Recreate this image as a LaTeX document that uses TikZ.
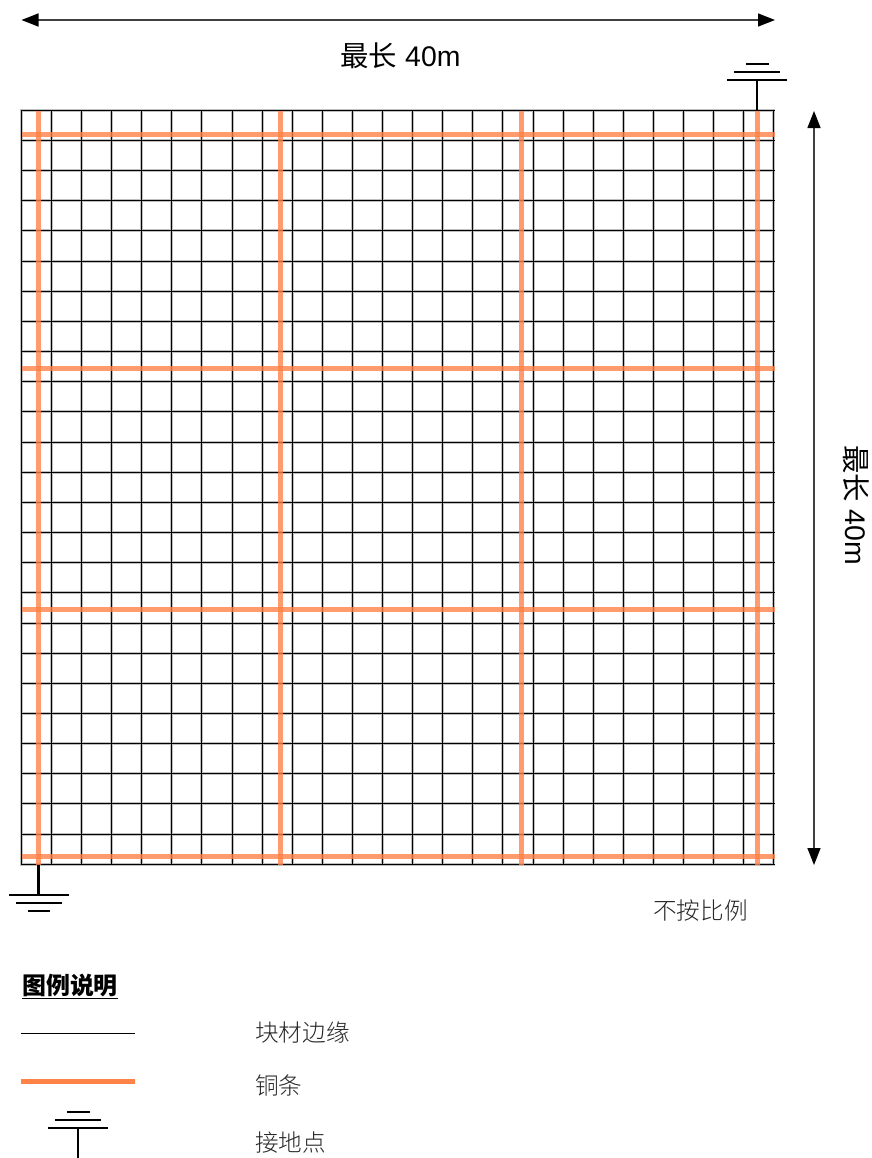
\documentclass[tikz,border=0pt]{standalone}
\usepackage{fontspec}
\usetikzlibrary{arrows.meta}
\setmainfont{Liberation Sans}
\newfontfamily\cjk{Noto Sans CJK SC}
\newfontfamily\cjklight{Noto Sans CJK SC Light}
\definecolor{copper}{HTML}{FF8247}
\tikzset{
  x=1bp,y=-1bp,
  gridcore/.style={black},
  gridhalo/.style={black!25},
  strap/.style={copper,opacity=.8,line width=5bp},
  wire/.style={black,line width=2.2bp},
  dimline/.style={black!75,line width=1.5bp,{Triangle[length=17bp,width=13bp,color=black]}-{Triangle[length=17bp,width=13bp,color=black]}},
  label/.style={inner sep=0pt,anchor=west,font=\fontsize{23.7}{26}\selectfont\cjklight,text=black!85},
  dimlabel/.style={inner sep=0pt,font=\fontsize{28.5}{32}\selectfont},
}
\newcommand{\gbar}[3]{\fill[black] (#1,#3-1.25) rectangle (#2,#3+1.25);}
\newcommand{\groundup}[2]{% x, bar y
  \gbar{#1-30}{#1+30}{#2}
  \gbar{#1-23}{#1+23}{#2-8}
  \gbar{#1-11.5}{#1+11.5}{#2-16}
}
\begin{document}
\begin{tikzpicture}
\useasboundingbox (0,0) rectangle (872,1158);
% grid: halos first, then one-pixel cores
\foreach \i in {0,...,25}{
  \pgfmathsetmacro{\px}{floor(21.3+\i*30.1)}
  \pgfmathsetmacro{\py}{floor(110.3+\i*30.16)}
  \fill[gridhalo] (\px-1,109) rectangle (\px+2,866);
  \fill[gridhalo] (20,\py-1) rectangle (775,\py+2);
}
\foreach \i in {0,...,25}{
  \pgfmathsetmacro{\px}{floor(21.3+\i*30.1)}
  \pgfmathsetmacro{\py}{floor(110.3+\i*30.16)}
  \fill[gridcore] (\px,110) rectangle (\px+1,865);
  \fill[gridcore] (21,\py) rectangle (775,\py+1);
}
% copper straps
\foreach \x in {38.5,280,521,757.5}
  \draw[strap] (\x,110.5) -- (\x,864.5);
\foreach \y in {134,368,609,856}
  \draw[strap] (21.5,\y) -- (775,\y);
% dimensions
\coordinate (dl) at (21.5,20);
\coordinate (dr) at (775,20);
\coordinate (vt) at (814,111);
\coordinate (vb) at (814,865);
\draw[dimline] (dl) -- (dr);
\draw[dimline] (vt) -- (vb);
\node[dimlabel] (toplabel) at (400.5,56) {{\cjk 最长} 40m};
\node[dimlabel,rotate=-90] (sidelabel) at (856,505) {{\cjk 最长} 40m};
% grounds
\coordinate (gt) at (757,80);
\coordinate (gts) at (757,110.5);
\draw[wire] (gt) -- (gts);
\groundup{757}{80}
\coordinate (gb) at (38.5,895);
\coordinate (gbs) at (38.5,864.5);
\draw[wire] (gb) -- (gbs);
\gbar{8.5}{68.5}{895}
\gbar{16}{61.5}{903}
\gbar{27.5}{50}{911}
\node[label] (scale) at (653,911) {不按比例};
% legend
\node[inner sep=0pt,anchor=west,font=\fontsize{24}{26}\selectfont\cjk\bfseries] (title) at (22,986) {图例说明};
\fill[black] (21.5,997.6) rectangle (118,999.4);
\coordinate (l1a) at (21,1033.5);
\coordinate (l1b) at (134.5,1033.5);
\draw[black,line width=1.3bp] (l1a) -- (l1b);
\coordinate (l2a) at (21,1081.5);
\coordinate (l2b) at (134.5,1081.5);
\draw[copper,line width=5bp] (l2a) -- (l2b);
\coordinate (l3a) at (78,1128);
\coordinate (l3b) at (78,1158);
\draw[wire] (l3a) -- (l3b);
\groundup{78}{1128}
\node[label] (la) at (255,1033) {块材边缘};
\node[label] (lb) at (255,1085) {铜条};
\node[label] (lc) at (255,1143) {接地点};
\end{tikzpicture}
\end{document}
